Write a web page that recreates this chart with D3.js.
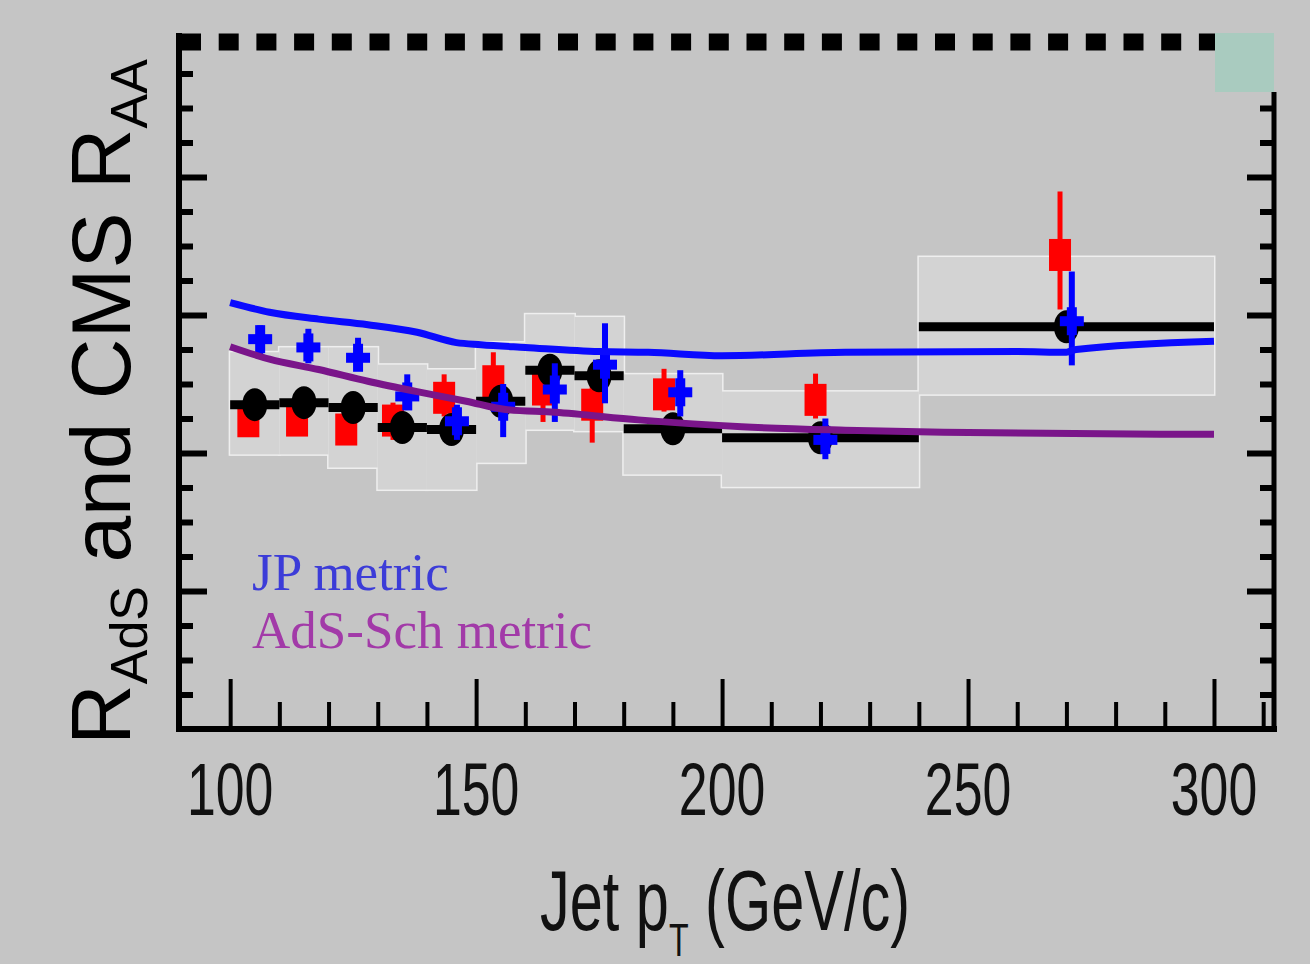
<!DOCTYPE html>
<html>
<head>
<meta charset="utf-8">
<script src="https://cdn.jsdelivr.net/npm/d3@7"></script>
<style>
  html, body { margin: 0; padding: 0; background: #c5c5c5; }
  svg { display: block; }
</style>
</head>
<body>
<div id="chart"></div>
<script>
// CMS jet R_AA bins (GeV/c) and values
var binLo = [100, 110, 120, 130, 140, 150, 160, 170, 180, 200, 240];
var binHi = [110, 120, 130, 140, 150, 160, 170, 180, 200, 240, 300];
var cmsRaa = [0.470, 0.473, 0.466, 0.437, 0.434, 0.475, 0.520, 0.512, 0.435, 0.422, 0.583];
// systematic band per bin
var sysLo = [0.398, 0.398, 0.379, 0.347, 0.347, 0.386, 0.434, 0.432, 0.369, 0.351, 0.485];
var sysHi = [0.546, 0.553, 0.553, 0.528, 0.521, 0.560, 0.601, 0.597, 0.514, 0.489, 0.684];

// red points
var redPt = [103.7, 113.6, 123.6, 133.1, 143.5, 153.5, 163.6, 173.6, 188.2, 219.0, 268.7];
var redVal = [0.446, 0.447, 0.434, 0.447, 0.480, 0.504, 0.492, 0.470, 0.485, 0.477, 0.687];
var redLo = [0.432, 0.432, 0.416, 0.419, 0.453, 0.470, 0.445, 0.415, 0.460, 0.450, 0.608];
var redHi = [0.460, 0.462, 0.450, 0.473, 0.514, 0.546, 0.520, 0.500, 0.522, 0.515, 0.779];

// blue crosses
var bluePt = [106.1, 115.9, 126.0, 136.0, 146.1, 155.5, 166.0, 176.2, 191.5, 221.0, 271.1];
var blueVal = [0.565, 0.553, 0.538, 0.482, 0.446, 0.467, 0.492, 0.528, 0.488, 0.419, 0.591];
var blueLo = [0.543, 0.530, 0.519, 0.464, 0.419, 0.423, 0.445, 0.472, 0.453, 0.391, 0.527];
var blueHi = [0.585, 0.580, 0.567, 0.514, 0.470, 0.500, 0.530, 0.588, 0.520, 0.450, 0.663];

// model curves
var jpPt = [100, 108, 118, 128, 138, 146, 151, 160, 175, 185, 200, 225, 260, 270, 272, 300];
var jpVal = [0.618, 0.604, 0.594, 0.586, 0.575, 0.560, 0.557, 0.553, 0.547, 0.546, 0.541, 0.546, 0.547, 0.546, 0.550, 0.562];
var adsPt = [100, 108, 118, 128, 138, 148, 156, 166, 183, 204, 225, 245, 300];
var adsVal = [0.554, 0.536, 0.521, 0.504, 0.489, 0.475, 0.463, 0.459, 0.448, 0.438, 0.433, 0.430, 0.427];

var xMajor = [100, 150, 200, 250, 300];
var xMinor = [110, 120, 130, 140, 160, 170, 180, 190, 210, 220, 230, 240, 260, 270, 280, 290, 310];
var yMajor = [0.2, 0.4, 0.6, 0.8];
var yMinor = [0.05, 0.1, 0.15, 0.25, 0.3, 0.35, 0.45, 0.5, 0.55, 0.65, 0.7, 0.75, 0.85, 0.9, 0.95];

var width = 1310, height = 964;

var svg = d3.select("#chart").append("svg")
    .attr("width", width)
    .attr("height", height);

svg.append("rect")
    .attr("width", width)
    .attr("height", height)
    .attr("fill", "#c5c5c5");

var x = d3.scaleLinear().domain([89.6, 312.2]).range([179, 1274]);
var y = d3.scaleLinear().domain([0, 1]).range([729, 39]);

// Systematic boxes: outline pass first, then fill on top so shared edges vanish
var sysIdx = d3.range(binLo.length);
svg.append("g").selectAll("rect")
    .data(sysIdx)
    .enter().append("rect")
    .attr("x", function (i) { return x(binLo[i]); })
    .attr("y", function (i) { return y(sysHi[i]); })
    .attr("width", function (i) { return x(binHi[i]) - x(binLo[i]); })
    .attr("height", function (i) { return y(sysLo[i]) - y(sysHi[i]); })
    .attr("fill", "#d3d3d3")
    .attr("stroke", "#efefef")
    .attr("stroke-width", 3);
svg.append("g").selectAll("rect")
    .data(sysIdx)
    .enter().append("rect")
    .attr("x", function (i) { return x(binLo[i]); })
    .attr("y", function (i) { return y(sysHi[i]); })
    .attr("width", function (i) { return x(binHi[i]) - x(binLo[i]); })
    .attr("height", function (i) { return y(sysLo[i]) - y(sysHi[i]); })
    .attr("fill", "#d3d3d3");

// Red points
var red = svg.append("g").selectAll("g")
    .data(d3.range(redPt.length))
    .enter().append("g");
red.append("line")
    .attr("x1", function (i) { return x(redPt[i]); })
    .attr("x2", function (i) { return x(redPt[i]); })
    .attr("y1", function (i) { return y(redLo[i]); })
    .attr("y2", function (i) { return y(redHi[i]); })
    .attr("stroke", "#ff0000")
    .attr("stroke-width", 5);
red.append("rect")
    .attr("x", function (i) { return x(redPt[i]) - 11; })
    .attr("y", function (i) { return y(redVal[i]) - 16; })
    .attr("width", 22)
    .attr("height", 32)
    .attr("fill", "#ff0000");

// CMS black points with bin-width bars
var cms = svg.append("g").selectAll("g")
    .data(sysIdx)
    .enter().append("g");
cms.append("line")
    .attr("x1", function (i) { return x(binLo[i]); })
    .attr("x2", function (i) { return x(binHi[i]); })
    .attr("y1", function (i) { return y(cmsRaa[i]); })
    .attr("y2", function (i) { return y(cmsRaa[i]); })
    .attr("stroke", "#000")
    .attr("stroke-width", 9);
cms.append("ellipse")
    .attr("cx", function (i) { return x((binLo[i] + binHi[i]) / 2); })
    .attr("cy", function (i) { return y(cmsRaa[i]); })
    .attr("rx", 12.5)
    .attr("ry", 16.5)
    .attr("fill", "#000");

// Blue crosses
var blue = svg.append("g").selectAll("g")
    .data(d3.range(bluePt.length))
    .enter().append("g");
blue.append("line")
    .attr("x1", function (i) { return x(bluePt[i]); })
    .attr("x2", function (i) { return x(bluePt[i]); })
    .attr("y1", function (i) { return y(blueLo[i]); })
    .attr("y2", function (i) { return y(blueHi[i]); })
    .attr("stroke", "#0000ff")
    .attr("stroke-width", 6);
blue.append("rect")
    .attr("x", function (i) { return x(bluePt[i]) - 12; })
    .attr("y", function (i) { return y(blueVal[i]) - 5; })
    .attr("width", 24)
    .attr("height", 10)
    .attr("fill", "#0000ff");
blue.append("rect")
    .attr("x", function (i) { return x(bluePt[i]) - 5; })
    .attr("y", function (i) { return y(blueVal[i]) - 14; })
    .attr("width", 10)
    .attr("height", 28)
    .attr("fill", "#0000ff");

// Model curves
var line = d3.line()
    .x(function (d) { return x(d[0]); })
    .y(function (d) { return y(d[1]); })
    .curve(d3.curveMonotoneX);

svg.append("path")
    .datum(d3.zip(adsPt, adsVal))
    .attr("d", line)
    .attr("fill", "none")
    .attr("stroke", "#7a158a")
    .attr("stroke-width", 7);

svg.append("path")
    .datum(d3.zip(jpPt, jpVal))
    .attr("d", line)
    .attr("fill", "none")
    .attr("stroke", "#0a0aff")
    .attr("stroke-width", 7);

// Legend labels
svg.append("text")
    .attr("x", 252)
    .attr("y", 590)
    .attr("font-family", "'Liberation Serif', 'Times New Roman', serif")
    .attr("font-size", 53)
    .attr("fill", "#3c3cd8")
    .text("JP metric");
svg.append("text")
    .attr("x", 252)
    .attr("y", 648)
    .attr("font-family", "'Liberation Serif', 'Times New Roman', serif")
    .attr("font-size", 53)
    .attr("fill", "#a23aa8")
    .text("AdS-Sch metric");

// Top dashed line at R = 1
svg.append("line")
    .attr("x1", 181)
    .attr("x2", 1215)
    .attr("y1", y(1) + 3)
    .attr("y2", y(1) + 3)
    .attr("stroke", "#000")
    .attr("stroke-width", 17)
    .attr("stroke-dasharray", "20 17.7");

// corner box
svg.append("rect")
    .attr("x", 1215)
    .attr("y", 33)
    .attr("width", 59)
    .attr("height", 59)
    .attr("fill", "#a9cbbf");

// Axes
var xAxisMajor = d3.axisBottom(x).tickValues(xMajor).tickSize(-50).tickSizeOuter(0).tickFormat("");
var xAxisMinor = d3.axisBottom(x).tickValues(xMinor).tickSize(-27).tickSizeOuter(0).tickFormat("");
var yLeftMajor = d3.axisRight(y).tickValues(yMajor).tickSize(28).tickSizeOuter(0).tickFormat("");
var yLeftMinor = d3.axisRight(y).tickValues(yMinor).tickSize(14).tickSizeOuter(0).tickFormat("");
var yRightMajor = d3.axisLeft(y).tickValues(yMajor).tickSize(27).tickSizeOuter(0).tickFormat("");
var yRightMinor = d3.axisLeft(y).tickValues(yMinor.filter(function (v) { return v < 0.92; })).tickSize(14).tickSizeOuter(0).tickFormat("");

function drawAxis(gen, tx, ty, sw) {
    var g = svg.append("g")
        .attr("transform", "translate(" + tx + "," + ty + ")")
        .call(gen);
    g.select(".domain").remove();
    g.selectAll(".tick line").attr("stroke", "#000").attr("stroke-width", sw);
    return g;
}
drawAxis(xAxisMajor, 0, 729, 4);
drawAxis(xAxisMinor, 0, 729, 4);
drawAxis(yLeftMajor, 179, 0, 6);
drawAxis(yLeftMinor, 179, 0, 6);
drawAxis(yRightMajor, 1274, 0, 6);
drawAxis(yRightMinor, 1274, 0, 6);

// axis lines
svg.append("line").attr("x1", 179).attr("x2", 179).attr("y1", 33).attr("y2", 732)
    .attr("stroke", "#000").attr("stroke-width", 6);
svg.append("line").attr("x1", 176).attr("x2", 1277).attr("y1", 729).attr("y2", 729)
    .attr("stroke", "#000").attr("stroke-width", 6);
svg.append("line").attr("x1", 1274).attr("x2", 1274).attr("y1", 92).attr("y2", 732)
    .attr("stroke", "#000").attr("stroke-width", 5);

// tick labels, narrow sans
svg.append("g").selectAll("text")
    .data(xMajor)
    .enter().append("text")
    .attr("transform", function (d) { return "translate(" + x(d) + ",815) scale(0.7,1)"; })
    .attr("text-anchor", "middle")
    .attr("font-family", "'Liberation Sans', Arial, sans-serif")
    .attr("font-size", 74)
    .attr("fill", "#111")
    .text(function (d) { return d; });

// x title
var xt = svg.append("text")
    .attr("transform", "translate(725,930) scale(0.7,1)")
    .attr("text-anchor", "middle")
    .attr("font-family", "'Liberation Sans', Arial, sans-serif")
    .attr("font-size", 85)
    .attr("fill", "#111");
xt.append("tspan").text("Jet p");
xt.append("tspan").attr("font-size", 46).attr("dy", 26).text("T");
xt.append("tspan").attr("dy", -26).text(" (GeV/c)");

// y title
var yt = svg.append("text")
    .attr("transform", "translate(130,402) rotate(-90)")
    .attr("text-anchor", "middle")
    .attr("font-family", "'Liberation Sans', Arial, sans-serif")
    .attr("font-size", 84)
    .attr("fill", "#000");
yt.append("tspan").text("R");
yt.append("tspan").attr("font-size", 52).attr("dy", 17).text("AdS");
yt.append("tspan").attr("dy", -17).text(" and CMS R");
yt.append("tspan").attr("font-size", 52).attr("dy", 17).text("AA");
</script>
</body>
</html>
